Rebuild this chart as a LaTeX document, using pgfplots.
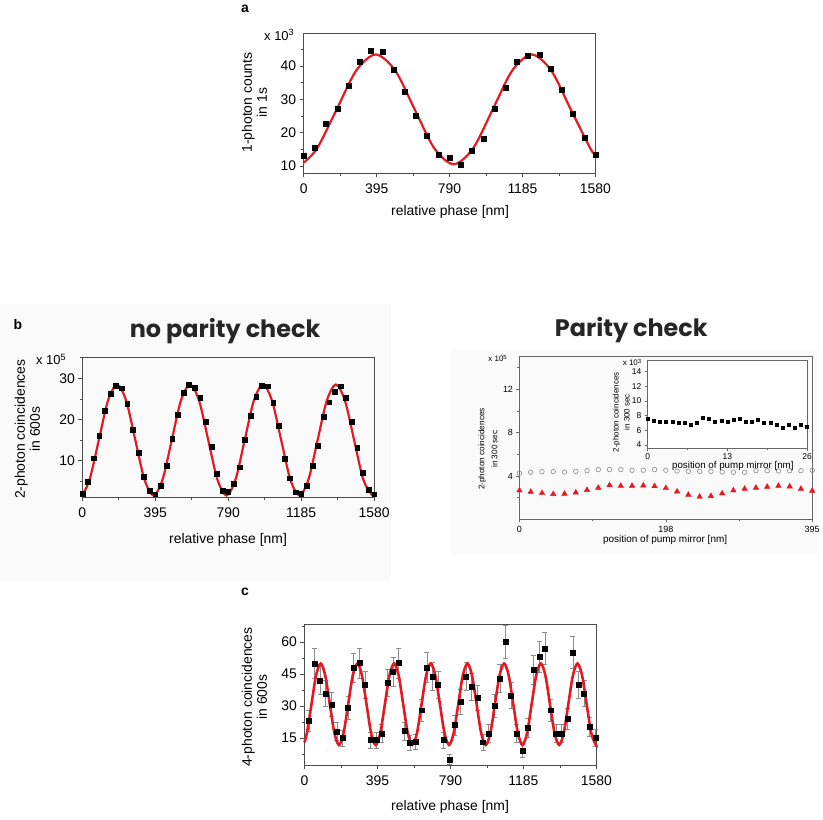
\documentclass[border=0pt]{standalone}
\usepackage{fontspec}
\setmainfont{Liberation Sans}
\newfontfamily\titlefont{Poppins}
\usepackage{pgfplots}
\pgfplotsset{compat=1.18}
\definecolor{fitred}{RGB}{230,25,35}
\pgfplotsset{
  base/.style={
    scale only axis, anchor=north west, clip=false,
    axis line style={black!70, line width=0.7pt},
    tick style={black!70, line width=0.7pt},
    tick align=outside, tick pos=left,
    major tick length=4pt, minor tick length=2.5pt,
    /pgf/number format/assume math mode=true,
    /pgf/number format/1000 sep={},
    scaled ticks=false,
  },
  big/.style={base, ticklabel style={font=\fontsize{14}{16}\selectfont},
    xticklabel style={yshift=-3pt},
    xmin=0, xmax=1580, xtick={0,395,790,1185,1580},
    xticklabels={0,395,790,1185,1580}, minor xtick={197.5,592.5,987.5,1382.5}},
  small/.style={base, major tick length=3pt, minor tick length=2pt,
    axis line style={black!60, line width=0.6pt},
    tick style={black!60, line width=0.6pt}},
  fit/.style={fitred, line width=2.2pt, smooth, no marks},
}
\begin{document}
\begin{tikzpicture}
\fill[white] (0pt,0pt) rectangle (821pt,-823pt);
\fill[black!2] (0pt,-305pt) rectangle (393pt,-583pt);
\fill[black!2] (453pt,-350pt) rectangle (821pt,-557pt);

% ---------------- panel a
\begin{axis}[big, at={(305pt,-33pt)}, width=293pt, height=141pt,
  ymin=7.8, ymax=50, ytick={10,20,30,40}, minor ytick={15,25,35,45}]
\addplot[only marks, mark=square*, mark size=2.5pt, black] table {
x y
0 13.0
60.8 15.5
121.5 22.8
182.3 27.2
243.1 34.0
303.8 41.2
364.6 44.6
425.4 44.2
486.2 39.0
546.9 32.2
607.7 25.0
668.5 19.0
729.2 13.4
790.0 12.5
850.8 10.5
911.5 14.5
972.3 18.3
1033.1 27.3
1093.8 33.6
1154.6 41.2
1215.4 43.1
1276.2 43.3
1336.9 39.1
1397.7 32.8
1458.5 25.7
1519.2 18.5
1580.0 13.3
};
\addplot[fit] coordinates {(0,11.0) (73.1,15.33) (178.75,27) (284.4,38.67) (390,43.5) (495.6,38.67) (601.25,27) (706.9,15.33) (812.5,10.5) (918.1,15.33) (1023.75,27) (1129.4,38.67) (1235,43.5) (1340.6,38.67) (1446.25,27) (1551.9,15.33) (1580,13.2)};
\end{axis}

% ---------------- panel b (no parity check)
\begin{axis}[big, at={(82.7pt,-359.3pt)}, width=293pt, height=140pt,
  ymin=1.1, ymax=35, ytick={10,20,30}, minor ytick={5,15,25,35}]
\addplot[only marks, mark=square*, mark size=2.4pt, black] table {
x y
0 1.9
30.4 4.8
60.8 10.6
91.2 16.0
121.5 22.1
151.9 26.3
182.3 28.2
212.7 27.6
243.1 23.9
273.5 17.5
303.8 11.9
334.2 6.0
364.6 2.6
395.0 1.8
425.4 3.8
455.8 8.8
486.2 15.4
516.5 21.1
546.9 26.5
577.3 28.4
607.7 27.7
638.1 25.2
668.5 19.4
698.8 13.4
729.2 6.9
759.6 2.6
790.0 2.4
820.4 4.4
850.8 8.4
881.2 15.0
911.5 20.9
941.9 25.6
972.3 28.3
1002.7 28.1
1033.1 24.1
1063.5 18.4
1093.8 10.4
1124.2 5.7
1154.6 2.3
1185.0 1.9
1215.4 3.8
1245.8 8.7
1276.2 13.7
1306.5 20.6
1336.9 24.2
1367.3 26.8
1397.7 28.1
1428.1 25.3
1458.5 19.4
1488.8 13.2
1519.2 7.0
1549.6 2.9
1580.0 1.8
};
\addplot[fit] coordinates {(0,1.6) (39.9,5.45) (89.25,15) (138.6,24.55) (188,28.5) (237.4,24.55) (286.75,15) (336.1,5.45) (385.5,1.5) (434.9,5.45) (484.25,15) (533.6,24.55) (583,28.5) (632.4,24.55) (681.75,15) (731.1,5.45) (780.5,1.5) (829.9,5.45) (879.25,15) (928.6,24.55) (978,28.5) (1027.4,24.55) (1076.75,15) (1126.1,5.45) (1175.5,1.5) (1224.9,5.45) (1274.25,15) (1323.6,24.55) (1373,28.5) (1422.4,24.55) (1471.75,15) (1521.1,5.45) (1570.5,1.5) (1580,1.6)};
\end{axis}

% ---------------- parity check main
\begin{axis}[small, at={(521.7pt,-358.3pt)}, width=294pt, height=163.4pt,
  ticklabel style={font=\fontsize{9}{10}\selectfont},
  xmin=0, xmax=395, ymin=0, ymax=15,
  xtick={0,197.5,395}, xticklabels={0,198,395}, minor xtick={98.75,296.25},
  ytick={4,8,12}, minor ytick={2,6,10,14}]
\addplot[only marks, mark=o, mark size=2.3pt, black!45, mark options={line width=0.6pt}] table {
x y
0 4.26
15.19 4.35
30.38 4.41
45.58 4.41
60.77 4.38
75.96 4.44
91.15 4.50
106.35 4.60
121.54 4.60
136.73 4.60
151.92 4.54
167.12 4.54
182.31 4.60
197.5 4.54
212.69 4.47
227.88 4.44
243.08 4.44
258.27 4.44
273.46 4.38
288.65 4.35
303.85 4.35
319.04 4.50
334.23 4.50
349.42 4.47
364.62 4.50
379.81 4.50
395 4.54
};
\addplot[only marks, mark=triangle*, mark size=3.2pt, fitred] table {
x y
0 2.68
15.19 2.55
30.38 2.43
45.58 2.34
60.77 2.37
75.96 2.49
91.15 2.71
106.35 2.92
121.54 3.16
136.73 3.10
151.92 3.10
167.12 3.13
182.31 3.07
197.5 2.89
212.69 2.58
227.88 2.28
243.08 2.10
258.27 2.16
273.46 2.40
288.65 2.68
303.85 2.83
319.04 2.92
334.23 3.01
349.42 3.10
364.62 3.04
379.81 2.83
395 2.65
};
\end{axis}

% ---------------- inset
\begin{axis}[small, at={(650.5pt,-362pt)}, width=160pt, height=88.4pt,
  axis background/.style={fill=white},
  ticklabel style={font=\fontsize{8.5}{9}\selectfont},
  xticklabel style={yshift=1.5pt},
  xmin=0, xmax=26, ymin=3.5, ymax=15.5,
  xtick={0,13,26}, minor xtick={6.5,19.5}, ytick={4,6,8,10,12,14}]
\addplot[only marks, mark=square*, mark size=1.5pt, black] table {
x y
0 7.6
1 7.3
2 7.1
3 7.1
4 7.1
5 7.05
6 7.0
7 6.7
8 7.0
9 7.7
10 7.6
11 7.1
12 7.35
13 7.2
14 7.45
15 7.6
16 7.2
17 7.2
18 7.45
19 7.0
20 7.0
21 6.7
22 6.4
23 6.7
24 6.4
25 6.8
26 6.5
};
\end{axis}

% ---------------- panel c
\begin{axis}[big, at={(305.7pt,-626.7pt)}, width=293.3pt, height=141.6pt,
  ymin=2.4, ymax=68.5, ytick={15,30,45,60}, minor ytick={7.5,22.5,37.5,52.5,67.5}]
\addplot[only marks, mark=square*, mark size=2.5pt, black,
  error bars/.cd, y dir=both, y explicit,
  error bar style={black!45, line width=0.6pt},
  error mark options={rotate=90, mark size=2.5pt, black!45, line width=0.6pt}]
  table[x=x, y=y, y error=e] {
x y e
24 23.1 4.8
54.4 50.0 7.1
84.8 42.1 6.5
115.2 36.0 6.0
145.6 30.9 5.6
176 18.0 4.2
206.4 15.0 3.9
236.8 29.2 5.4
267.2 48.0 6.9
297.6 50.2 7.1
328 40.1 6.3
358.4 14.1 3.8
388.8 14.1 3.8
419.2 17.2 4.1
449.6 41.0 6.4
480 46.0 6.8
510.4 50.2 7.1
540.8 18.3 4.3
571.2 12.8 3.6
601.6 13.3 3.6
632 28.1 5.3
662.4 48.2 6.9
692.8 44.0 6.6
723.2 40.1 6.3
753.6 14.1 3.8
784 5.0 2.2
814.4 21.1 4.6
844.8 32.0 5.7
875.2 44.0 6.6
905.6 39.0 6.2
936 34.0 5.8
966.4 13.1 3.6
996.8 17.2 4.1
1027.2 30.1 5.5
1057.6 42.9 6.5
1088 60.0 7.7
1118.4 35.1 5.9
1148.8 17.2 4.1
1179.2 8.9 3.0
1209.6 20.0 4.5
1240 47.1 6.9
1270.4 53.0 7.3
1300.8 56.9 7.5
1331.2 28.1 5.3
1361.6 17.2 4.1
1392 17.2 4.1
1422.4 24.2 4.9
1452.8 55.2 7.4
1483.2 40.2 6.3
1513.6 36.0 6.0
1544 20.3 4.5
1574.4 15.3 3.9
};
\addplot[fit, line width=2.6pt] coordinates {(0,13.0) (13.5625,17.39) (38.375,30.9) (63.1875,44.41)
(88,50.0) (112.8125,44.41) (137.625,30.9) (162.4375,17.39) (187.25,11.8) (212.0625,17.39) (236.875,30.9) (261.6875,44.41)
(286.5,50.0) (311.3125,44.41) (336.125,30.9) (360.9375,17.39) (385.75,11.8) (410.5625,17.39) (435.375,30.9) (460.1875,44.41)
(485,50.0) (509.8125,44.41) (534.625,30.9) (559.4375,17.39) (584.25,11.8) (609.0625,17.39) (633.875,30.9) (658.6875,44.41)
(683.5,50.0) (708.3125,44.41) (733.125,30.9) (757.9375,17.39) (782.75,11.8) (807.5625,17.39) (832.375,30.9) (857.1875,44.41)
(882,50.0) (906.8125,44.41) (931.625,30.9) (956.4375,17.39) (981.25,11.8) (1006.0625,17.39) (1030.875,30.9) (1055.6875,44.41)
(1080.5,50.0) (1105.3125,44.41) (1130.125,30.9) (1154.9375,17.39) (1179.75,11.8) (1204.5625,17.39) (1229.375,30.9) (1254.1875,44.41)
(1279,50.0) (1303.8125,44.41) (1328.625,30.9) (1353.4375,17.39) (1378.25,11.8) (1403.0625,17.39) (1427.875,30.9) (1452.6875,44.41)
(1477.5,50.0) (1502.3125,44.41) (1527.125,30.9) (1551.9375,17.39) (1576.75,11.8) (1580,11.85)};
\end{axis}

% ---------------- text
\node[font=\bfseries\fontsize{14}{16}\selectfont] at (246pt,-9pt) {a};
\node[anchor=east, font=\fontsize{13}{15}\selectfont] at (299pt,-35pt) {x 10\textsuperscript{3}};
\node[rotate=90, align=center, font=\fontsize{14}{15}\selectfont] at (255.5pt,-103pt) {1-photon counts\\in 1s};
\node[font=\fontsize{14}{16}\selectfont] at (452pt,-213pt) {relative phase [nm]};

\node[font=\bfseries\fontsize{14}{16}\selectfont] at (18pt,-326pt) {b};
\node[anchor=base, text=black!85, font=\titlefont\bfseries\fontsize{24}{28}\selectfont] at (226pt,-339.3pt) {no parity check};
\node[anchor=east, font=\fontsize{13}{15}\selectfont] at (70pt,-361pt) {x 10\textsuperscript{5}};
\node[rotate=90, align=center, font=\fontsize{14}{15}\selectfont] at (27.5pt,-431pt) {2-photon coincidences\\in 600s};
\node[font=\fontsize{14}{16}\selectfont] at (229pt,-542pt) {relative phase [nm]};

\node[anchor=base, text=black!85, font=\titlefont\bfseries\fontsize{24}{28}\selectfont] at (634pt,-338.3pt) {Parity check};
\node[anchor=east, font=\fontsize{8}{9}\selectfont] at (513pt,-360pt) {x 10\textsuperscript{5}};
\node[rotate=90, align=center, font=\fontsize{8.2}{13}\selectfont] at (490pt,-451pt) {2-photon coincidences\\in 300 sec};
\node[font=\fontsize{10}{12}\selectfont] at (668pt,-542pt) {position of pump mirror [nm]};
\node[anchor=east, font=\fontsize{8}{9}\selectfont] at (648pt,-364pt) {x 10\textsuperscript{3}};
\node[rotate=90, align=center, font=\fontsize{8}{11}\selectfont] at (624pt,-414pt) {2-photon coincidences\\in 300 sec};
\node[inner sep=0pt, font=\fontsize{9.8}{12}\selectfont] at (736pt,-468pt) {position of pump mirror [nm]};

\node[font=\bfseries\fontsize{14}{16}\selectfont] at (246pt,-594pt) {c};
\node[rotate=90, align=center, font=\fontsize{14}{15}\selectfont] at (255.5pt,-700pt) {4-photon coincidences\\in 600s};
\node[font=\fontsize{14}{16}\selectfont] at (452pt,-810pt) {relative phase [nm]};
\end{tikzpicture}
\end{document}
